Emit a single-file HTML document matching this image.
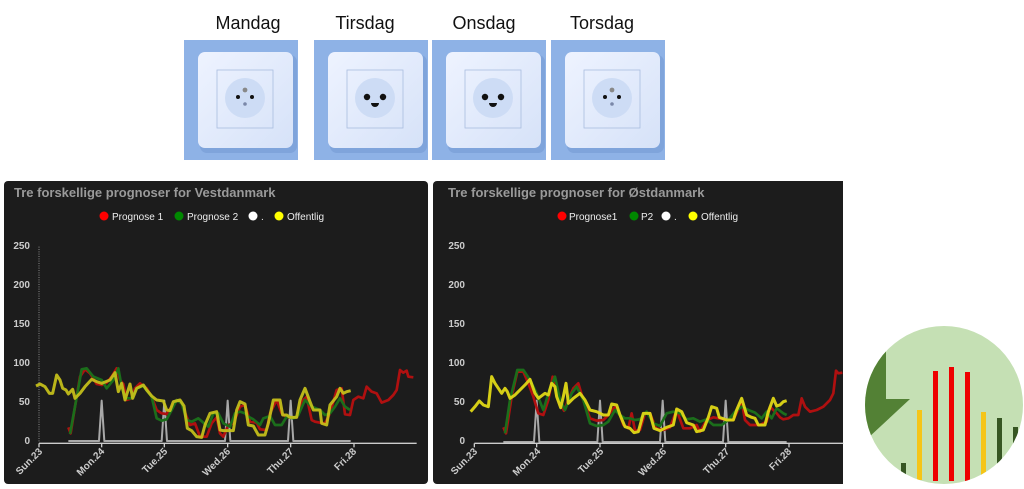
<!DOCTYPE html>
<html><head><meta charset="utf-8"><style>
html,body{margin:0;padding:0;background:#fff;width:1024px;height:489px;overflow:hidden}
svg{display:block}
text{font-family:"Liberation Sans",sans-serif}
</style></head><body>
<svg width="1024" height="489" viewBox="0 0 1024 489" xmlns="http://www.w3.org/2000/svg">
<defs>
<linearGradient id="pl" x1="0" y1="0" x2="1" y2="1"><stop offset="0" stop-color="#eef3ff"/><stop offset="1" stop-color="#d6e2f8"/></linearGradient>
<g id="base">
<rect x="0" y="0" width="114" height="120" fill="#8eb2e6"/>
<rect x="16" y="15" width="97" height="98" rx="7" fill="#6f95cf" opacity="0.5"/>
<rect x="14" y="12" width="95" height="96" rx="7" fill="url(#pl)"/>
<rect x="33" y="30" width="56" height="58" fill="none" stroke="#a9bddf" stroke-width="0.8"/>
<circle cx="61" cy="58" r="20" fill="#cddcf5"/>
</g>
<g id="s1"><use href="#base"/><circle cx="61" cy="50" r="2.4" fill="#888"/><circle cx="54" cy="57" r="2" fill="#111"/><circle cx="68" cy="57" r="2" fill="#111"/><circle cx="61" cy="64" r="1.8" fill="#7a87a8"/></g>
<g id="s2"><use href="#base"/><circle cx="53" cy="57" r="3.2" fill="#111"/><circle cx="69" cy="57" r="3.2" fill="#111"/><path d="M57 63 h8 a4 4 0 0 1 -8 0z" fill="#111"/></g>
</defs>
<text x="248" y="29" font-size="18" text-anchor="middle" fill="#111">Mandag</text>
<text x="365" y="29" font-size="18" text-anchor="middle" fill="#111">Tirsdag</text>
<text x="484" y="29" font-size="18" text-anchor="middle" fill="#111">Onsdag</text>
<text x="602" y="29" font-size="18" text-anchor="middle" fill="#111">Torsdag</text>
<use href="#s1" x="184" y="40"/>
<use href="#s2" x="314" y="40"/>
<use href="#s2" x="432" y="40"/>
<use href="#s1" x="551" y="40"/>

<!-- panels -->
<rect x="4" y="181" width="424" height="303" rx="4" fill="#1c1c1c"/>
<rect x="433" y="181" width="420" height="303" rx="4" fill="#1c1c1c"/>
<rect x="428" y="181" width="5" height="303" fill="#fff"/>
<rect x="843" y="181" width="20" height="308" fill="#fff"/>

<g font-weight="bold">
<text x="14" y="197" font-size="13" fill="#9a9a9a">Tre forskellige prognoser for Vestdanmark</text>
<text x="448" y="197" font-size="13" fill="#9a9a9a">Tre forskellige prognoser for Østdanmark</text>
</g>
<g font-size="10" fill="#eee">
<circle cx="104" cy="216" r="4.5" fill="#f00"/><text x="112" y="220">Prognose 1</text>
<circle cx="179" cy="216" r="4.5" fill="#080"/><text x="187" y="220">Prognose 2</text>
<circle cx="253" cy="216" r="4.5" fill="#fff"/><text x="261" y="220">.</text>
<circle cx="279" cy="216" r="4.5" fill="#ff0"/><text x="287" y="220">Offentlig</text>
<circle cx="562" cy="216" r="4.5" fill="#f00"/><text x="569" y="220">Prognose1</text>
<circle cx="634" cy="216" r="4.5" fill="#080"/><text x="641" y="220">P2</text>
<circle cx="666" cy="216" r="4.5" fill="#fff"/><text x="674" y="220">.</text>
<circle cx="693" cy="216" r="4.5" fill="#ff0"/><text x="701" y="220">Offentlig</text>
</g>
<g font-size="10" font-weight="bold" fill="#ccc" text-anchor="end">
<text x="30" y="249">250</text><text x="30" y="288">200</text><text x="30" y="327">150</text><text x="30" y="366">100</text><text x="30" y="405">50</text><text x="30" y="444">0</text>
<text x="465" y="249">250</text><text x="465" y="288">200</text><text x="465" y="327">150</text><text x="465" y="366">100</text><text x="465" y="405">50</text><text x="465" y="444">0</text>
</g>
<g font-size="10" font-weight="bold" fill="#ccc" text-anchor="end">
<text transform="translate(43,452) rotate(-45)">Sun.23</text>
<text transform="translate(105,452) rotate(-45)">Mon.24</text>
<text transform="translate(168,452) rotate(-45)">Tue.25</text>
<text transform="translate(231,452) rotate(-45)">Wed.26</text>
<text transform="translate(294,452) rotate(-45)">Thu.27</text>
<text transform="translate(357,452) rotate(-45)">Fri.28</text>
<text transform="translate(478,452) rotate(-45)">Sun.23</text>
<text transform="translate(541,452) rotate(-45)">Mon.24</text>
<text transform="translate(604,452) rotate(-45)">Tue.25</text>
<text transform="translate(667,452) rotate(-45)">Wed.26</text>
<text transform="translate(730,452) rotate(-45)">Thu.27</text>
<text transform="translate(792,452) rotate(-45)">Fri.28</text>
</g>

<!-- left chart -->
<g transform="translate(0,180) scale(0.33333)" fill="none" stroke-linejoin="round">
<line x1="117" y1="200" x2="117" y2="785" stroke="#888" stroke-width="3" stroke-dasharray="3 4"/>
<polyline stroke="#a8a8a8" stroke-width="6" points="205,783 297,783 305,662 313,783 485,783 493,662 501,783 675,783 683,662 691,783 864,783 872,662 880,783 1052,783"/>
<line x1="117" y1="790" x2="1250" y2="790" stroke="#ccc" stroke-width="4"/>
<g stroke="#ccc" stroke-width="4"><line x1="117" y1="790" x2="117" y2="802"/><line x1="305" y1="790" x2="305" y2="802"/><line x1="493" y1="790" x2="493" y2="802"/><line x1="683" y1="790" x2="683" y2="802"/><line x1="872" y1="790" x2="872" y2="802"/><line x1="1062" y1="790" x2="1062" y2="802"/></g>
<polyline stroke="#b01010" stroke-width="8" points="205,742 212,760 225,680 240,590 255,568 270,580 290,612 305,615 320,608 335,590 350,565 360,600 370,612 380,660 395,655 405,625 420,610 440,625 455,650 470,690 485,700 500,702 515,680 530,660 545,670 560,710 570,735 585,730 600,770 620,770 635,730 650,712 660,760 670,770 685,735 700,730 720,680 735,675 750,725 770,728 780,748 800,750 810,700 830,660 845,700 860,712 890,712 905,665 920,650 935,720 945,725 960,728 975,730 990,700 1010,630 1025,625 1035,703 1050,705 1060,660 1075,650 1090,655 1100,620 1115,635 1130,640 1145,668 1165,660 1180,645 1190,630 1200,570 1210,578 1220,572 1225,590 1240,592"/>
<polyline stroke="#1b6e1b" stroke-width="8" points="210,762 225,680 245,568 260,565 280,590 305,600 320,625 340,600 355,565 365,620 375,655 395,655 410,625 430,618 455,650 470,715 485,722 500,718 515,690 530,660 545,670 560,720 575,725 595,715 610,728 625,740 640,700 655,700 670,730 690,740 705,700 720,695 735,700 745,710 760,718 780,735 790,715 810,708 825,735 845,735 860,710 880,715 895,705 915,660 935,680 960,690 975,705 990,700 1005,680 1020,655 1035,680 1050,690"/>
<polyline stroke="#c8c21a" stroke-width="9" opacity="0.92" points="108,618 120,612 135,620 148,640 158,640 170,585 180,600 188,625 198,630 205,642 218,628 225,655 240,640 255,620 275,598 290,605 305,610 330,600 345,578 355,635 365,610 375,660 390,612 398,655 410,625 430,615 440,630 455,648 470,660 490,663 500,690 510,692 520,665 540,660 552,678 562,745 575,752 590,770 605,772 615,735 630,700 650,695 660,750 670,752 700,752 710,690 720,665 735,672 745,735 760,738 775,765 795,765 805,730 820,660 840,660 848,705 860,705 870,712 890,712 900,660 915,625 930,665 940,690 960,690 965,730 980,735 990,675 1010,650 1020,625 1030,640 1040,635 1052,632"/>
</g>

<!-- right chart -->
<g transform="translate(430,180) scale(0.33333)" fill="none" stroke-linejoin="round">
<polyline stroke="#a8a8a8" stroke-width="6" points="220,786 312,786 320,662 328,786 502,786 510,662 518,786 690,786 698,662 706,786 879,786 887,662 895,786 1070,786"/>
<line x1="133" y1="790" x2="1240" y2="790" stroke="#ccc" stroke-width="4"/>
<g stroke="#ccc" stroke-width="4"><line x1="133" y1="790" x2="133" y2="802"/><line x1="320" y1="790" x2="320" y2="802"/><line x1="510" y1="790" x2="510" y2="802"/><line x1="698" y1="790" x2="698" y2="802"/><line x1="887" y1="790" x2="887" y2="802"/><line x1="1077" y1="790" x2="1077" y2="802"/></g>
<polyline stroke="#b01010" stroke-width="8" points="220,742 228,760 245,650 262,575 280,575 295,610 310,650 325,700 340,705 355,660 368,590 380,620 392,675 402,692 415,660 430,625 445,610 460,660 480,715 500,722 520,720 535,705 555,680 570,705 580,735 595,745 605,700 615,752 630,750 645,700 660,700 678,745 700,750 720,742 740,690 760,745 780,745 800,735 810,755 830,720 850,712 865,715 890,720 910,720 935,665 945,720 960,735 990,735 1010,725 1020,680 1040,700 1050,712 1060,718 1075,715 1090,705 1105,705 1115,655 1125,680 1140,695 1160,690 1180,680 1200,660 1210,640 1218,572 1225,580 1237,578"/>
<polyline stroke="#1b6e1b" stroke-width="8" points="225,760 240,660 262,570 280,570 300,600 320,640 340,690 360,625 375,590 390,660 405,690 425,640 440,620 460,660 480,730 500,738 520,735 535,725 555,690 570,705 585,715 600,715 615,720 630,718 650,695 670,730 690,738 710,700 730,695 750,700 770,718 790,715 810,725 830,718 850,735 875,735 895,720 915,695 935,680 955,690 975,698 995,715 1010,695 1025,715 1040,685 1060,700 1070,705"/>
<polyline stroke="#e0d816" stroke-width="9" opacity="0.95" points="122,695 135,680 148,663 160,675 175,680 185,590 195,610 205,625 215,640 225,625 232,635 240,655 255,645 270,630 285,615 300,598 315,640 325,655 345,640 355,645 365,610 375,620 380,650 392,683 400,650 408,610 415,670 430,655 450,640 465,660 480,690 500,695 520,705 535,705 545,672 560,675 570,705 585,740 600,745 612,758 625,755 640,700 660,700 672,745 690,752 710,742 730,735 740,687 755,695 770,728 790,735 800,755 820,750 835,712 845,680 860,685 868,712 890,720 910,720 920,690 935,655 950,705 965,712 975,715 985,735 1005,735 1015,695 1030,655 1040,678 1050,675 1060,665 1070,662"/>
</g>

<!-- icon -->
<clipPath id="cc"><circle cx="944" cy="405" r="79"/></clipPath>
<circle cx="944" cy="405" r="79" fill="#c5e0b4"/>
<g clip-path="url(#cc)">
<polygon points="865,320 886,320 886,399 910,399 868,438 860,438" fill="#538135"/>
<rect x="901" y="463" width="5" height="20" fill="#375623"/>
<rect x="917" y="410" width="5" height="70" fill="#f5c518"/>
<rect x="933" y="371" width="5" height="110" fill="#e00"/>
<rect x="949" y="367" width="5" height="114" fill="#e00"/>
<rect x="965" y="372" width="5" height="110" fill="#e00"/>
<rect x="981" y="412" width="5" height="70" fill="#f5c518"/>
<rect x="997" y="418" width="5" height="64" fill="#375623"/>
<rect x="1013" y="427" width="5" height="55" fill="#375623"/>
</g>
</svg>
</body></html>
